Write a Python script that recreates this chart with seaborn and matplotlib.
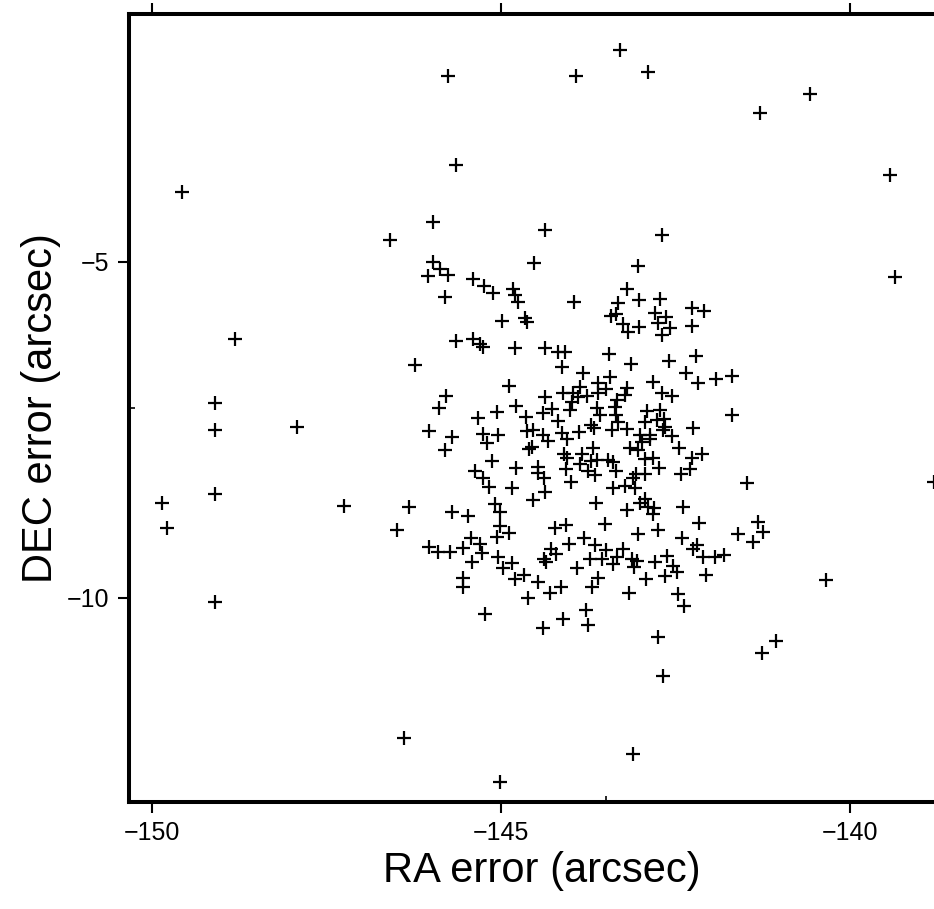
import matplotlib
matplotlib.use("Agg")
import matplotlib.pyplot as plt
import seaborn as sns
from matplotlib.ticker import FixedLocator

# pointing errors (arcsec)
ra_err = [
    -143.30, -145.76, -143.93, -142.89, -140.57, -141.29, -145.64, -149.57, -139.43, -145.97,
    -144.37, -142.69, -146.59, -139.35, -148.81, -149.10, -149.10, -147.92, -149.10, -149.86,
    -149.79, -147.25, -149.10, -138.80, -140.34, -141.06, -141.26, -142.68, -146.39, -145.01,
    -143.11, -146.49, -141.48, -143.78, -143.75, -144.11, -144.40, -142.75, -145.23,
    # central cloud, upper part
    -145.97, -145.87, -145.76, -146.05, -145.40, -145.24, -145.11, -144.83, -144.80, -144.76,
    -145.80, -144.99, -144.66, -144.63, -145.64, -145.40, -145.30, -145.26, -144.80, -146.23,
    -144.89, -145.79, -145.89, -144.79, -144.64, -145.06, -145.33, -146.03, -145.70, -145.26,
    -145.04, -144.63,
    -144.53, -143.04, -143.19, -143.32, -143.02, -142.72, -143.95, -143.42, -143.35, -142.79,
    -142.75, -143.25, -143.18, -143.02, -142.69, -144.37, -144.18, -144.08, -143.45, -143.14,
    -144.13, -143.83, -143.44, -143.61, -142.82, -143.87, -144.11, -143.50, -143.19, -143.22,
    -144.37, -143.97, -143.90, -143.77, -143.61, -143.34, -142.69, -143.98, -144.27, -144.40,
    -144.01, -143.62, -143.37, -142.91, -142.72, -144.18, -143.58, -143.35, -142.94, -142.76,
    -143.32, -143.71, -143.67, -144.54, -144.40, -144.13, -143.88, -143.41, -143.19, -143.01,
    -142.86, -142.68,
    -142.26, -142.09, -142.64, -142.26, -142.58, -142.59, -142.21, -142.35, -142.18, -141.92,
    -141.69, -142.55, -142.66, -142.65, -142.55, -142.25, -141.69,
    # central cloud, lower part
    -145.80, -145.20, -144.60, -144.56, -145.13, -144.79, -145.37, -145.26, -145.17, -144.84,
    -144.54, -146.32, -145.70, -145.47, -145.09, -145.01, -145.01, -145.06, -144.89, -145.43,
    -146.03, -145.90, -145.73, -145.54, -145.30, -145.27, -145.42, -145.04, -144.97, -144.84,
    -144.67, -144.80, -145.54, -145.54, -144.61,
    -144.33, -144.05, -144.10, -144.05, -143.84, -143.68, -143.71, -143.62, -143.47, -143.40,
    -143.35, -143.87, -143.75, -143.65, -144.07, -144.47, -144.47, -144.38, -144.00, -144.37,
    -143.40, -143.22, -143.08, -143.11, -143.07, -142.94, -142.98, -142.86, -143.15, -143.04,
    -142.94, -142.82, -142.74, -143.64, -143.19, -143.01, -142.94, -142.89, -142.81, -142.82,
    -144.23, -144.07, -143.51, -143.04, -142.75, -144.03, -143.81, -143.65, -143.50, -143.25,
    -144.28, -144.21, -144.38, -144.36, -143.72, -143.55, -143.34, -143.40, -143.12, -143.09,
    -143.05, -142.79, -143.91, -143.61, -143.70, -144.47, -144.14, -144.30, -143.17, -142.92,
    -142.45, -142.26, -142.12, -142.42, -142.29, -142.39, -142.16, -142.41, -142.19, -142.25,
    -142.62, -142.11, -141.93, -141.80, -142.54, -142.48, -142.65, -142.06, -141.32, -141.25,
    -141.60, -141.39, -142.46, -142.38,
]
dec_err = [
    -1.85, -2.23, -2.23, -2.17, -2.50, -2.78, -3.56, -3.96, -3.71, -4.40,
    -4.52, -4.60, -4.67, -5.22, -6.15, -7.10, -7.50, -7.46, -8.45, -8.59,
    -8.96, -8.63, -10.06, -8.27, -9.73, -10.65, -10.82, -11.16, -12.08, -12.74,
    -12.32, -8.99, -8.29, -10.18, -10.40, -10.31, -10.45, -10.58, -10.24,
    -5.00, -5.10, -5.19, -5.21, -5.25, -5.36, -5.46, -5.40, -5.49, -5.60,
    -5.52, -5.88, -5.83, -5.89, -6.18, -6.15, -6.22, -6.26, -6.28, -6.53,
    -6.85, -6.99, -7.17, -7.14, -7.31, -7.23, -7.32, -7.51, -7.60, -7.56,
    -7.57, -7.51,
    -5.01, -5.06, -5.40, -5.61, -5.57, -5.55, -5.60, -5.80, -5.77, -5.76,
    -5.91, -5.92, -6.04, -5.97, -6.09, -6.28, -6.34, -6.34, -6.37, -6.52,
    -6.56, -6.65, -6.71, -6.80, -6.79, -6.86, -6.95, -6.89, -6.88, -6.98,
    -7.01, -6.95, -7.01, -6.99, -6.95, -7.05, -6.95, -7.08, -7.19, -7.25,
    -7.20, -7.17, -7.16, -7.22, -7.20, -7.37, -7.28, -7.28, -7.38, -7.35,
    -7.38, -7.43, -7.47, -7.50, -7.57, -7.54, -7.53, -7.50, -7.49, -7.57,
    -7.57, -7.50,
    -5.68, -5.73, -5.82, -5.95, -5.98, -6.47, -6.40, -6.65, -6.80, -6.74,
    -6.70, -6.99, -7.34, -7.46, -7.59, -7.47, -7.28,
    -7.80, -7.69, -7.78, -7.75, -7.96, -8.07, -8.11, -8.21, -8.35, -8.36,
    -8.54, -8.65, -8.72, -8.78, -8.60, -8.72, -8.93, -9.09, -9.03, -9.11,
    -9.24, -9.32, -9.32, -9.26, -9.20, -9.33, -9.46, -9.40, -9.55, -9.48,
    -9.66, -9.72, -9.70, -9.84, -10.00,
    -7.66, -7.63, -7.86, -7.92, -7.86, -7.77, -7.96, -7.95, -7.95, -7.98,
    -8.11, -8.01, -8.11, -8.17, -8.08, -8.05, -8.14, -8.21, -8.27, -8.42,
    -8.36, -8.33, -8.36, -8.21, -8.15, -8.15, -7.68, -7.63, -7.77, -7.80,
    -7.93, -7.92, -8.07, -8.59, -8.69, -8.59, -8.53, -8.65, -8.66, -8.75,
    -8.96, -8.91, -8.90, -9.05, -8.99, -9.20, -9.11, -9.21, -9.29, -9.27,
    -9.27, -9.35, -9.43, -9.46, -9.43, -9.43, -9.40, -9.49, -9.43, -9.54,
    -9.45, -9.46, -9.55, -9.70, -9.84, -9.76, -9.84, -9.93, -9.93, -9.72,
    -7.77, -7.92, -7.86, -8.15, -8.08, -8.65, -8.88, -9.11, -9.21, -9.27,
    -9.38, -9.40, -9.40, -9.36, -9.52, -9.61, -9.67, -9.66, -8.87, -9.02,
    -9.05, -9.17, -9.94, -10.12,
]

x_ticks = [-150, -145, -140]
y_ticks = [-10, -5]
# small inner marks on the axes
x_mark = [-143.5]
y_mark = [-7.18]

sns.set_theme(style="ticks")
plt.rcParams["font.family"] = ["Liberation Sans", "DejaVu Sans"]
plt.rcParams["text.color"] = "black"
plt.rcParams["axes.labelcolor"] = "black"
plt.rcParams["xtick.color"] = "black"
plt.rcParams["ytick.color"] = "black"

fig = plt.figure(figsize=(9.34, 9.09), dpi=100)
ax = fig.add_axes([0.1381, 0.1177, 0.884, 0.8669])

sns.scatterplot(x=ra_err, y=dec_err, marker="+", color="black",
                s=95, linewidth=1.6, ax=ax, clip_on=True)

ax.set_xlim(-150.33, -138.5)
ax.set_ylim(-13.04, -1.31)
ax.xaxis.set_major_locator(FixedLocator(x_ticks))
ax.yaxis.set_major_locator(FixedLocator(y_ticks))
ax.xaxis.set_minor_locator(FixedLocator(x_mark))
ax.yaxis.set_minor_locator(FixedLocator(y_mark))
ax.set_xticklabels(["\u2212150", "\u2212145", "\u2212140"])
ax.set_yticklabels(["\u221210", "\u22125"])

for side in ["left", "bottom", "top"]:
    ax.spines[side].set_visible(True)
    ax.spines[side].set_linewidth(2.9)
    ax.spines[side].set_color("black")
ax.spines["right"].set_visible(False)

ax.tick_params(axis="both", which="major", direction="out", length=8,
               width=1.5, colors="black", labelsize=18, pad=6)
ax.tick_params(axis="x", which="major", top=True, labeltop=False)
ax.tick_params(axis="both", which="minor", direction="in", length=4,
               width=1.2, colors="black")
ax.tick_params(axis="x", which="minor", top=False)

ax.set_xlabel("RA error (arcsec)", fontsize=30, labelpad=4, color="black")
ax.set_ylabel("DEC error (arcsec)", fontsize=30, labelpad=4, color="black")

fig.savefig("out.png", dpi=100)
